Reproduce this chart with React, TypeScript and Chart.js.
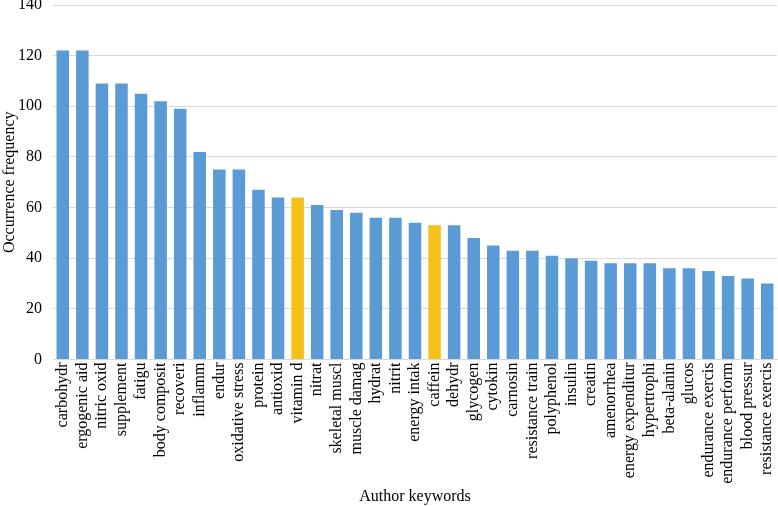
import React, { useEffect, useRef } from "react";
import { Chart, registerables } from "chart.js";

Chart.register(...registerables);

const categories = [
  "carbohydr", "ergogenic aid", "nitric oxid", "supplement", "fatigu", "body composit",
  "recoveri", "inflamm", "endur", "oxidative stress", "protein", "antioxid", "vitamin d",
  "nitrat", "skeletal muscl", "muscle damag", "hydrat", "nitrit", "energy intak", "caffein",
  "dehydr", "glycogen", "cytokin", "carnosin", "resistance train", "polyphenol", "insulin",
  "creatin", "amenorrhea", "energy expenditur", "hypertrophi", "beta-alanin", "glucos",
  "endurance exercis", "endurance perform", "blood pressur", "resistance exercis",
];

const occurrences = [
  122, 122, 109, 109, 105, 102, 99, 82, 75, 75, 67, 64, 64, 61, 59, 58, 56, 56, 54, 53,
  53, 48, 45, 43, 43, 41, 40, 39, 38, 38, 38, 36, 36, 35, 33, 32, 30,
];

const highlighted = ["vitamin d", "caffein"];

const yTicks = [0, 20, 40, 60, 80, 100, 120, 140];

const BLUE = "#5B9BD5";
const YELLOW = "#F5C018";

export default function App() {
  const ref = useRef<HTMLCanvasElement | null>(null);

  useEffect(() => {
    document.body.style.margin = "0";
    const ctx = ref.current;
    if (!ctx) return;
    const font = { family: "'Liberation Serif', 'Times New Roman', serif", size: 16 };
    const chart = new Chart(ctx, {
      type: "bar",
      data: {
        labels: categories,
        datasets: [
          {
            data: occurrences,
            backgroundColor: categories.map((c) => (highlighted.includes(c) ? YELLOW : BLUE)),
            barPercentage: 0.64,
            categoryPercentage: 1,
          },
        ],
      },
      options: {
        animation: false,
        responsive: false,
        maintainAspectRatio: false,
        layout: { padding: { top: 5, right: 1, left: 0, bottom: 0 } },
        plugins: { legend: { display: false }, tooltip: { enabled: false } },
        scales: {
          x: {
            afterFit: (axis: any) => {
              axis.paddingLeft = 0;
              axis.paddingRight = 0;
            },
            grid: { display: false, drawTicks: false },
            border: { display: true, color: "#D9D9D9", width: 1 },
            ticks: {
              color: "#000",
              font,
              minRotation: 90,
              maxRotation: 90,
              autoSkip: false,
              padding: 3,
            },
            title: { display: true, text: "Author keywords", color: "#000", font, padding: { top: 0, bottom: 0 } },
          },
          y: {
            min: 0,
            max: 140,
            afterBuildTicks: (axis: any) => {
              axis.ticks = yTicks.map((v) => ({ value: v }));
            },
            afterFit: (axis: any) => {
              axis.paddingTop = 0;
              axis.paddingBottom = 0;
              axis.width = 53;
            },
            grid: { color: "#D9D9D9", drawTicks: false },
            border: { display: false },
            ticks: { color: "#000", font, padding: 11 },
            title: { display: true, text: "Occurrence frequency", color: "#000", font, padding: { top: 0, bottom: 0 } },
          },
        },
      },
    });
    return () => chart.destroy();
  }, []);

  return (
    <div style={{ width: 778, height: 506 }}>
      <canvas ref={ref} width={778} height={506} style={{ display: "block" }} />
    </div>
  );
}
